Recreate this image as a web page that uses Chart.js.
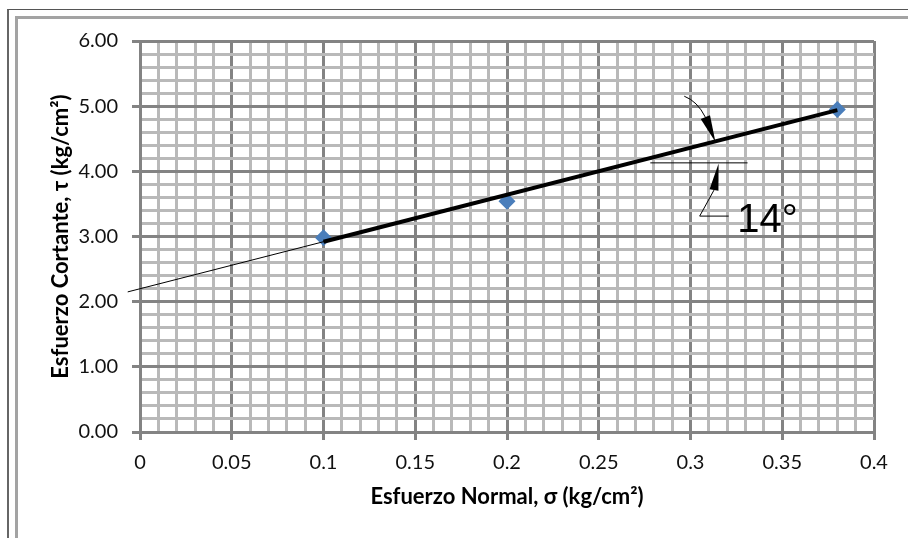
<!DOCTYPE html>
<html><head><meta charset="utf-8">
<script src="https://cdn.jsdelivr.net/npm/chart.js@4.4.1/dist/chart.umd.min.js"></script>
<style>
html,body{margin:0;padding:0;background:#fff;}
#wrap{position:relative;width:908px;height:538px;overflow:hidden;background:#fff;}
#outer{position:absolute;left:7px;top:9px;width:960px;height:700px;border-top:1.5px solid #555;border-left:2px solid #666;}
#inner{position:absolute;left:15px;top:16px;width:960px;height:700px;border-top:3px solid #a3a3a3;border-left:3px solid #a3a3a3;}
canvas{position:absolute;left:0;top:0;}
</style></head><body>
<div id="wrap"><div id="outer"></div><div id="inner"></div><canvas id="c" width="908" height="538"></canvas></div>
<script>
// ---- data ----
const sigma = [0.1, 0.2, 0.38];          // Esfuerzo normal (kg/cm²)
const tau = [2.98, 3.54, 4.95];          // Esfuerzo cortante (kg/cm²)
const trendX = [-0.0067, 0.38];          // thin trend line
const trendY = [2.15, 4.94];
const envelopeX = [0.1, 0.38];           // thick envelope line
const envelopeY = [2.92, 4.94];
const xMajorTicks = [0, 0.05, 0.1, 0.15, 0.2, 0.25, 0.3, 0.35, 0.4];
const xTickLabels = ['0', '0.05', '0.1', '0.15', '0.2', '0.25', '0.3', '0.35', '0.4'];
const yMajorTicks = [0, 1, 2, 3, 4, 5, 6];
const yTickLabels = ['0.00', '1.00', '2.00', '3.00', '4.00', '5.00', '6.00'];
const angleLabel = '14°';
// angle annotation, in data units
const angleRef = {x: [0.2781, 0.3311], y: 4.13};
const arrowTop = {start: [0.2966, 5.153], ctrl: [0.3037, 5.077], base: [0.3081, 4.831], tip: [0.3136, 4.452]};
const arrowBottom = {tip: [0.3153, 4.121], base: [0.3128, 3.712], knee: [0.3050, 3.313], end: [0.3208, 3.313]};
const labelPos = [0.3255, 3.072];

const MAJOR = '#838383', MINOR = '#b9b9b9';
const isMajorX = v => Math.abs(v * 100 - Math.round(v * 20) * 5) < 1e-6;
const isMajorY = v => Math.abs(v - Math.round(v)) < 1e-6;
const findLabel = (v, ticks, labels) => {
  const i = ticks.findIndex(t => Math.abs(t - v) < 1e-6);
  return i >= 0 ? labels[i] : '';
};

const annotationPlugin = {
  id: 'angleAnnotation',
  afterDatasetsDraw(chart) {
    const {ctx, scales: {x, y}} = chart;
    const P = p => [x.getPixelForValue(p[0]), y.getPixelForValue(p[1])];
    ctx.save();
    ctx.strokeStyle = '#000';
    ctx.fillStyle = '#000';
    ctx.lineWidth = 1;
    ctx.beginPath();
    ctx.moveTo(x.getPixelForValue(angleRef.x[0]), y.getPixelForValue(angleRef.y));
    ctx.lineTo(x.getPixelForValue(angleRef.x[1]), y.getPixelForValue(angleRef.y));
    ctx.stroke();
    const head = (b, t, w) => {
      const dx = t[0] - b[0], dy = t[1] - b[1];
      const L = Math.hypot(dx, dy);
      const nx = -dy / L * w, ny = dx / L * w;
      ctx.beginPath();
      ctx.moveTo(b[0] + nx, b[1] + ny);
      ctx.lineTo(t[0], t[1]);
      ctx.lineTo(b[0] - nx, b[1] - ny);
      ctx.closePath();
      ctx.fill();
    };
    const s = P(arrowTop.start), c = P(arrowTop.ctrl), b = P(arrowTop.base), t = P(arrowTop.tip);
    ctx.beginPath();
    ctx.moveTo(s[0], s[1]);
    ctx.quadraticCurveTo(c[0], c[1], b[0], b[1]);
    ctx.stroke();
    head(b, t, 5);
    const t2 = P(arrowBottom.tip), b2 = P(arrowBottom.base), k2 = P(arrowBottom.knee), e2 = P(arrowBottom.end);
    ctx.beginPath();
    ctx.moveTo(b2[0], b2[1]);
    ctx.lineTo(k2[0], k2[1]);
    ctx.lineTo(e2[0], e2[1]);
    ctx.stroke();
    head(b2, t2, 4.5);
    const lp = P(labelPos);
    ctx.font = '40px "Liberation Sans", Arial, sans-serif';
    ctx.textBaseline = 'alphabetic';
    ctx.textAlign = 'left';
    ctx.fillText(angleLabel, lp[0], lp[1]);
    ctx.restore();
  }
};

const tickFont = {family: 'Lato, "Noto Sans", sans-serif', size: 20};
const titleFont = {family: 'Lato, "Noto Sans", sans-serif', size: 22, weight: 'bold'};

new Chart(document.getElementById('c'), {
  type: 'scatter',
  data: {
    datasets: [
      {
        label: 'envelope',
        data: envelopeX.map((v, i) => ({x: v, y: envelopeY[i]})),
        showLine: true, borderColor: '#000', borderWidth: 4,
        pointRadius: 0, order: 0
      },
      {
        label: 'trend',
        data: trendX.map((v, i) => ({x: v, y: trendY[i]})),
        showLine: true, borderColor: '#000', borderWidth: 1,
        pointRadius: 0, order: 1, clip: {left: 20, top: 0, right: 0, bottom: 0}
      },
      {
        label: 'ensayos',
        data: sigma.map((v, i) => ({x: v, y: tau[i]})),
        showLine: false, pointStyle: 'rectRot', pointRadius: 8.5,
        backgroundColor: '#4a7ebb', borderColor: '#4a7ebb', borderWidth: 0, order: 2
      }
    ]
  },
  options: {
    responsive: false,
    animation: false,
    devicePixelRatio: 1,
    layout: {padding: {left: 20, top: 41, right: 34, bottom: 16}},
    plugins: {legend: {display: false}, tooltip: {enabled: false}},
    scales: {
      x: {
        type: 'linear', min: 0, max: 0.4,
        afterFit: s => { s.height = 90; },
        ticks: {
          stepSize: 0.01, autoSkip: false, maxRotation: 0, minRotation: 0,
          maxTicksLimit: 1000, padding: 11, color: '#111', font: tickFont,
          callback: v => findLabel(v, xMajorTicks, xTickLabels)
        },
        grid: {
          color: c => isMajorX(c.tick.value) ? MAJOR : MINOR,
          lineWidth: 3,
          tickColor: c => isMajorX(c.tick.value) ? MAJOR : 'rgba(0,0,0,0)',
          tickLength: 8
        },
        border: {display: true, color: MAJOR, width: 3},
        title: {display: true, text: 'Esfuerzo Normal, σ (kg/cm²)', color: '#000', font: titleFont, padding: {top: 0, bottom: 12}}
      },
      y: {
        type: 'linear', min: 0, max: 6,
        afterFit: s => { s.width = 120; },
        ticks: {
          stepSize: 0.2, autoSkip: false, maxTicksLimit: 1000, padding: 14,
          color: '#111', font: tickFont,
          callback: v => findLabel(v, yMajorTicks, yTickLabels)
        },
        grid: {
          color: c => isMajorY(c.tick.value) ? MAJOR : MINOR,
          lineWidth: 3,
          tickColor: c => isMajorY(c.tick.value) ? MAJOR : 'rgba(0,0,0,0)',
          tickLength: 8
        },
        border: {display: true, color: MAJOR, width: 3},
        title: {display: true, text: 'Esfuerzo Cortante, τ (kg/cm²)', color: '#000', font: titleFont, padding: {top: 28, bottom: 0}}
      }
    }
  },
  plugins: [annotationPlugin]
});
</script>
</body></html>
